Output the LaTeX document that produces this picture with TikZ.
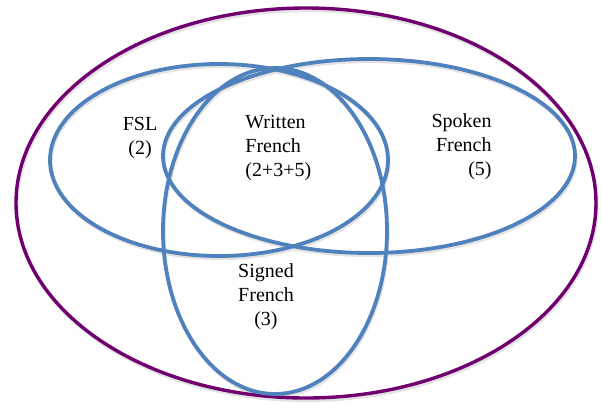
\documentclass[tikz,border=0pt]{standalone}
\usepackage{fontspec}
\setmainfont{Liberation Serif}
\definecolor{setblue}{RGB}{79,129,189}
\definecolor{setpurple}{RGB}{112,0,112}
\begin{document}
\begin{tikzpicture}[x=0.5pt,y=-0.5pt,
	set/.style={line width=1.9pt,draw=setblue},
	whole/.style={line width=1.7pt,draw=setpurple},
	shade/.style={line width=1.6pt,draw=black!11,shift={(1,2.5)}},
	lbl/.style={font=\fontsize{10}{12}\selectfont,inner sep=0pt}]
	\useasboundingbox (0,0) rectangle (601,403);
	% shadows
	\draw[shade] (306,203) ellipse [x radius=290,y radius=195];
	\draw[shade] (219,160) ellipse [x radius=169,y radius=96];
	\draw[shade] (369,156) ellipse [x radius=206,y radius=97];
	\draw[shade] (275,231) ellipse [x radius=112,y radius=163];
	% sets
	\draw[whole] (306,203) ellipse [x radius=290,y radius=195];
	\draw[set] (219,160) ellipse [x radius=169,y radius=96];
	\draw[set] (369,156) ellipse [x radius=206,y radius=97];
	\draw[set] (275,231) ellipse [x radius=112,y radius=163];
	% labels
	\node[lbl,anchor=north,align=center] (fsl) at (140,117) {FSL\\(2)};
	\node[lbl,anchor=north west,align=left] (written) at (245,114.5) {Written\\French\\(2+3+5)};
	\node[lbl,anchor=north east,align=right] (spoken) at (492,113.5) {Spoken\\French\\(5)};
	\node[lbl,anchor=north,align=center] (signed) at (266,263.5) {Signed\\French\\(3)};
\end{tikzpicture}
\end{document}
